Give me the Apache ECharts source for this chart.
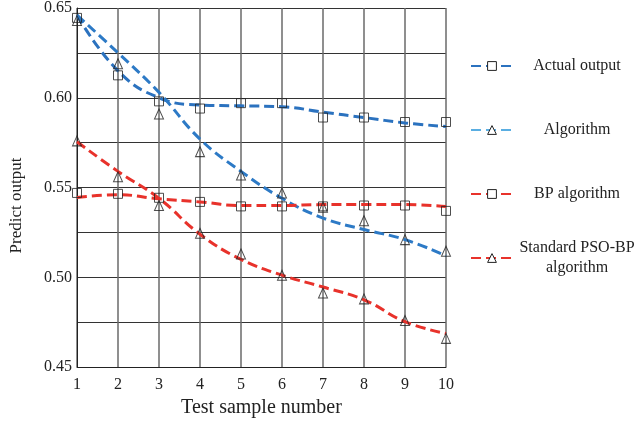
<!DOCTYPE html>
<html>
<head>
<meta charset="utf-8">
<script src="https://cdn.jsdelivr.net/npm/echarts@6/dist/echarts.min.js"></script>
<style>
  html, body { margin: 0; padding: 0; background: #fff; }
  #chart { width: 637px; height: 423px; }
</style>
</head>
<body>
<div id="chart"></div>
<script>
// test samples 1..10
const samples = [1, 2, 3, 4, 5, 6, 7, 8, 9, 10];
const yTicks = [0.45, 0.5, 0.55, 0.6, 0.65];

// dashed fitted curves
const actualCurve = [0.646, 0.615, 0.600, 0.596, 0.5955, 0.595, 0.592, 0.589, 0.586, 0.584];
const algoCurve = [0.646, 0.625, 0.603, 0.577, 0.559, 0.544, 0.533, 0.5266, 0.521, 0.512];
const bpCurve = [0.5445, 0.546, 0.5437, 0.542, 0.540, 0.540, 0.5405, 0.5405, 0.5405, 0.5394];
const psoCurve = [0.5755, 0.559, 0.544, 0.524, 0.510, 0.5012, 0.4946, 0.4875, 0.4753, 0.4687];

// measured points (hollow markers)
const actualMarks = [0.6445, 0.6125, 0.598, 0.594, 0.597, 0.597, 0.589, 0.589, 0.5865, 0.5865];
const algoMarks = [0.643, 0.619, 0.591, 0.570, 0.557, 0.547, 0.539, 0.5315, 0.521, 0.5145];
const bpMarks = [0.547, 0.5465, 0.5443, 0.542, 0.5395, 0.5395, 0.5395, 0.540, 0.540, 0.537];
const psoMarks = [0.576, 0.556, 0.540, 0.5245, 0.513, 0.5012, 0.4913, 0.488, 0.476, 0.466];

const names = ['Actual output', 'Algorithm', 'BP algorithm', 'Standard PSO-BP algorithm'];
const colors = ['#2b72bf', '#2d7ac6', '#e8322b', '#e8322b'];
const symbols = ['rect', 'triangle', 'rect', 'triangle'];

const font = 'Liberation Serif';
const pair = (arr) => arr.map((v, i) => [samples[i], v]);

const chart = echarts.init(document.getElementById('chart'));

const curves = [actualCurve, algoCurve, bpCurve, psoCurve];
const marks = [actualMarks, algoMarks, bpMarks, psoMarks];

const series = [];
curves.forEach((c, i) => {
  series.push({
    name: names[i],
    type: 'line',
    smooth: 0.45,
    data: pair(c),
    symbol: symbols[i],
    showSymbol: false,
    itemStyle: { color: '#fff', borderColor: '#222', borderWidth: 1 },
    lineStyle: { color: colors[i], width: 3, type: [10, 5] },
    emphasis: { disabled: true },
    z: 3,
  });
});
marks.forEach((m, i) => {
  series.push({
    name: names[i] + ' points',
    type: 'scatter',
    data: pair(m),
    symbol: symbols[i],
    symbolSize: symbols[i] === 'rect' ? [9, 9] : [9, 10],
    itemStyle: { color: 'rgba(0,0,0,0)', borderColor: '#222', borderWidth: 1 },
    emphasis: { disabled: true },
    z: 4,
  });
});

const option = {
  animation: false,
  grid: { left: 76, right: 191, top: 8, bottom: 52 },
  legend: {
    orient: 'vertical',
    left: 465,
    top: 43,
    itemGap: 28,
    itemWidth: 42,
    itemHeight: 11,
    itemStyle: { color: '#fff', borderColor: '#222', borderWidth: 1 },
    data: names.map((n, i) => i === 1
      ? { name: n, lineStyle: { color: '#5aaee2' } }
      : { name: n }),
    formatter: (name) => name === 'Standard PSO-BP algorithm'
      ? '{b|Standard PSO-BP}\n{b|algorithm}'
      : '{a|' + name + '}',
    textStyle: {
      fontFamily: font,
      fontSize: 16,
      color: '#222',
      rich: {
        a: { width: 118, align: 'center', lineHeight: 20, padding: [10, 0, 10, 0], fontFamily: font, fontSize: 16, color: '#222' },
        b: { width: 118, align: 'center', lineHeight: 20, fontFamily: font, fontSize: 16, color: '#222' },
      },
    },
  },
  xAxis: {
    type: 'value',
    min: 1,
    max: 10,
    interval: 1,
    name: 'Test sample number',
    nameLocation: 'middle',
    nameGap: 30,
    nameTextStyle: { fontFamily: font, fontSize: 20, color: '#222' },
    axisLine: { lineStyle: { color: '#222', width: 1 } },
    axisTick: { show: false },
    axisLabel: { fontFamily: font, fontSize: 16, color: '#222', margin: 10 },
    splitLine: { show: true, lineStyle: { color: '#6a6a6a', width: 1.5 } },
  },
  yAxis: {
    type: 'value',
    min: 0.45,
    max: 0.65,
    interval: 0.025,
    name: 'Predict output',
    nameLocation: 'middle',
    nameGap: 52,
    nameTextStyle: { fontFamily: font, fontSize: 17, color: '#222', padding: [0, 36, 0, 0] },
    axisLine: { show: true, lineStyle: { color: '#222', width: 1 } },
    axisTick: { show: false },
    axisLabel: {
      fontFamily: font,
      fontSize: 16,
      color: '#222',
      margin: 5,
      formatter: (v) => yTicks.some((t) => Math.abs(t - v) < 1e-6) ? v.toFixed(2) : '',
    },
    splitLine: { show: true, lineStyle: { color: '#333', width: 1 } },
  },
  series,
};

chart.setOption(option);
</script>
</body>
</html>
